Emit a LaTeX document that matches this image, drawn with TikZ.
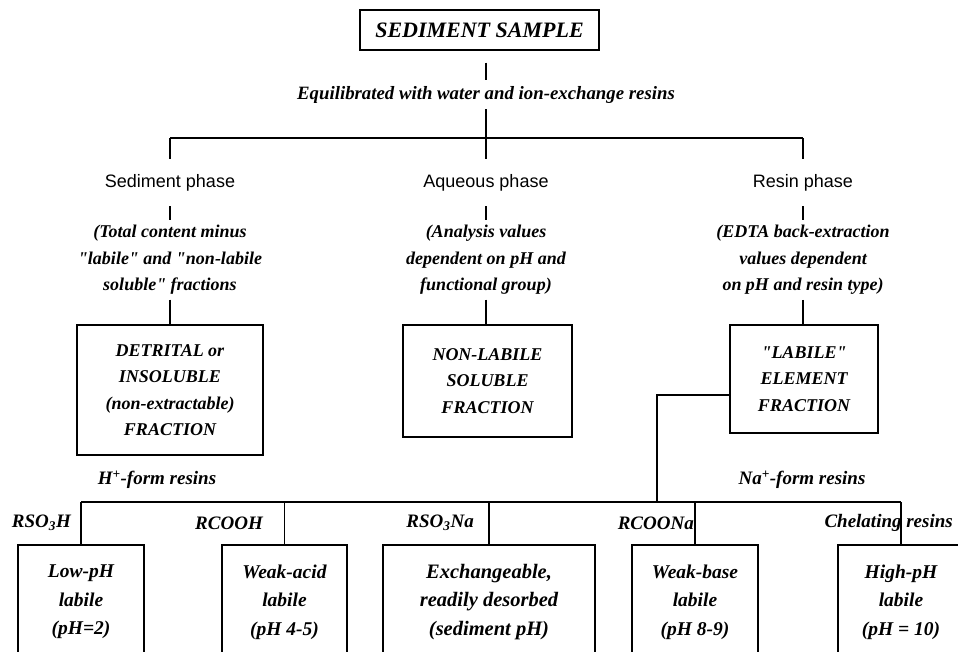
\documentclass[tikz,border=0pt]{standalone}
\usepackage{fontspec}
\setmainfont{Liberation Serif}[Ligatures=TeXOff]
\newfontfamily\sansf{Liberation Sans}
\tikzset{
  bi/.style={font=\fontsize{18}{26.5}\selectfont\bfseries\itshape},
  bib/.style={font=\fontsize{19.5}{28.5}\selectfont\bfseries\itshape},
  box/.style={draw, line width=1.2pt, align=center, inner sep=0pt, bi},
  lowbox/.style={box, bib, minimum height=114pt},
  ln/.style={line width=1.2pt},
  phase/.style={font=\fontsize{18}{22}\selectfont\sansf, text height=13pt, text depth=4pt, inner ysep=15pt, inner xsep=0pt},
  paren/.style={bi, align=center, inner ysep=5pt, anchor=north},
  lbl/.style={bi, inner sep=0pt},
  lblb/.style={font=\fontsize{19}{24}\selectfont\bfseries\itshape, inner sep=0pt}
}
\begin{document}
\begin{tikzpicture}[x=1pt,y=-1pt]
\useasboundingbox (0,0) rectangle (958,651);
\clip (0,0) rectangle (958,651);
% top
\node[box, minimum width=239pt, minimum height=40pt, font=\fontsize{22}{26}\selectfont\bfseries\itshape] (top) at (479.5,30) {SEDIMENT SAMPLE};
\node[font=\fontsize{18.8}{24}\selectfont\bfseries\itshape, text height=13pt, text depth=4pt, inner ysep=6pt, inner xsep=0pt] (eq) at (486,94.5) {Equilibrated with water and ion-exchange resins};
\coordinate (hM) at (486,138);
\coordinate (hL) at (170,138);
\coordinate (hR) at (803,138);
% phases
\node[phase] (sp) at (170,182.5) {Sediment phase};
\node[phase] (aq) at (486,182.5) {Aqueous phase};
\node[phase] (rp) at (803,182.5) {Resin phase};
\node[paren] (spx) at (170,220) {(Total content minus\\"labile" and "non-labile\\soluble" fractions};
\node[paren] (aqx) at (486,220) {(Analysis values\\dependent on pH and\\functional group)};
\node[paren] (rpx) at (803,220) {(EDTA back-extraction\\values dependent\\on pH and resin type)};
% fraction boxes
\node[box, minimum width=186pt, minimum height=130pt] (det) at (170,390) {DETRITAL or\\INSOLUBLE\\(non-extractable)\\FRACTION};
\node[box, minimum width=169pt, minimum height=112pt] (non) at (487.5,381) {NON-LABILE\\SOLUBLE\\FRACTION};
\node[box, minimum width=148pt, minimum height=108pt] (lab) at (804,379) {"LABILE"\\ELEMENT\\FRACTION};
% resin form labels
\node[lblb] (hform) at (157,480) {H\textsuperscript{+}-form resins};
\node[lblb] (naform) at (802,480) {Na\textsuperscript{+}-form resins};
\node[lblb, anchor=east] (r1) at (71,523) {RSO\textsubscript{3}H};
\node[lblb, anchor=east] (r2) at (263,523) {RCOOH};
\node[lblb, anchor=east] (r3) at (474,523) {RSO\textsubscript{3}Na};
\node[lblb, anchor=east] (r4) at (694,523) {RCOONa};
\node[lblb, anchor=east] (r5) at (953,523) {Chelating resins};
% bottom boxes
\node[lowbox, minimum width=126pt] (low) at (81,602) {Low-pH\\labile\\(pH=2)};
\node[lowbox, minimum width=125pt] (wacid) at (284.5,602) {Weak-acid\\labile\\(pH 4-5)};
\node[lowbox, minimum width=212pt, font=\fontsize{20.5}{28.5}\selectfont\bfseries\itshape] (exch) at (489,602) {Exchangeable,\\readily desorbed\\(sediment pH)};
\node[lowbox, minimum width=126pt] (wbase) at (695,602) {Weak-base\\labile\\(pH 8-9)};
\node[lowbox, minimum width=126pt] (high) at (901,602) {High-pH\\labile\\(pH = 10)};
% connectors
\draw[ln, shorten <=12pt] (top.south -| eq.north) -- (eq.north);
\draw[ln] (eq.south) -- (hM);
\draw[ln] (hL) -- (hR);
\draw[ln] (hL) -- (sp.north);
\draw[ln] (hM) -- (aq.north);
\draw[ln] (hR) -- (rp.north);
\draw[ln] (sp.south) -- (spx.north);
\draw[ln] (aq.south) -- (aqx.north);
\draw[ln] (rp.south) -- (rpx.north);
\draw[ln] (spx.south) -- (spx.south |- det.north);
\draw[ln] (aqx.south) -- (aqx.south |- non.north);
\draw[ln] (rpx.south) -- (rpx.south |- lab.north);
\coordinate (nb) at (657,502);
\coordinate (barL) at (81,502);
\coordinate (barR) at (901,502);
\draw[ln] ([yshift=-16pt]lab.west) -| (nb);
\draw[ln] (barL) -- (barR);
\draw[ln] (low.north) -- (low.north |- barL);
\draw[ln] (wacid.north) -- (wacid.north |- barL);
\draw[ln] (exch.north) -- (exch.north |- barL);
\draw[ln] (wbase.north) -- (wbase.north |- barL);
\draw[ln] (high.north) -- (high.north |- barL);
\end{tikzpicture}
\end{document}
